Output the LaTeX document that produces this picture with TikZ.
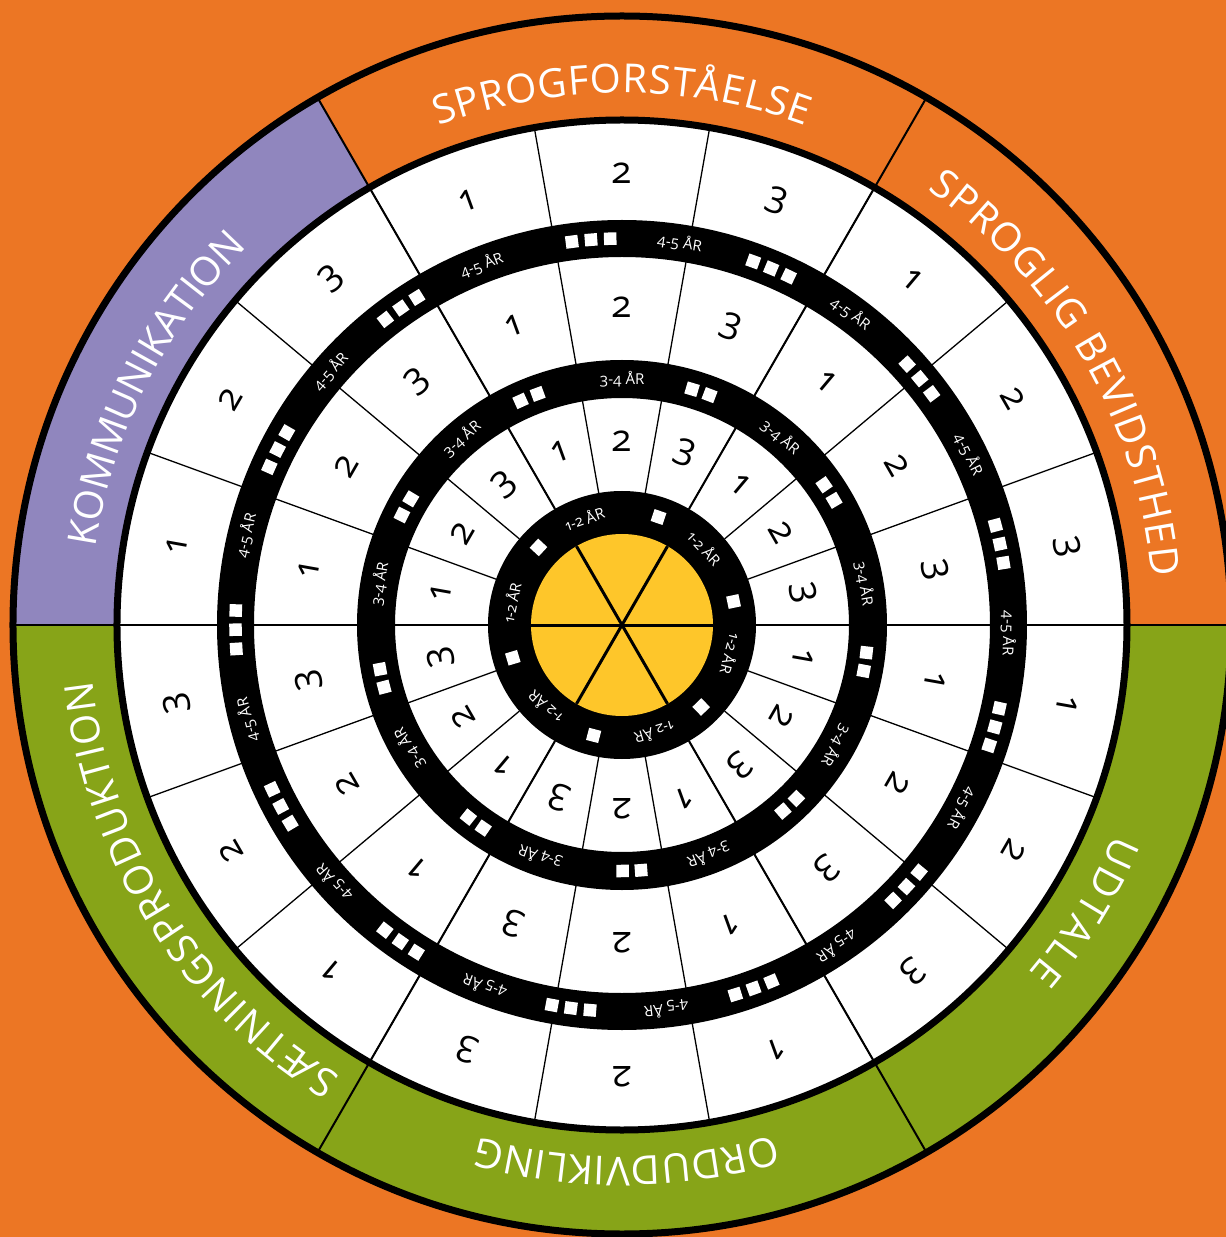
\documentclass[tikz,border=0pt]{standalone}
\usepackage{fontspec}
\setmainfont{Open Sans}[Numbers=OldStyle]
\usetikzlibrary{decorations.text}
\definecolor{bgorange}{RGB}{236,118,36}
\definecolor{kpurple}{RGB}{144,134,190}
\definecolor{kgreen}{RGB}{135,164,24}
\definecolor{kyellow}{RGB}{254,198,42}
\begin{document}
\begin{tikzpicture}[x=1pt,y=1pt,
  digit/.style={font=\fontsize{37}{38}\selectfont, inner sep=0pt, text=black},
  agelabel/.style={font=\fontsize{15}{16}\selectfont, inner sep=0pt, text=white},
  sqr/.style={fill=white, minimum size=12.5pt, inner sep=0pt, outer sep=0pt},
  cellline/.style={line width=1.3pt, black},
  secline/.style={line width=2pt, black},
  cattext/.style={decorate, decoration={text along path, text align=fit to path, text={|\fontsize{40}{48}\selectfont\color{white}|#1}}}
]
\useasboundingbox (-622,-612) rectangle (604,625);
\fill[bgorange] (-622,-612) rectangle (604,625);
% category ring
\fill[kpurple] (120:505) arc[start angle=120,end angle=180,radius=505] -- (180:609) arc[start angle=180,end angle=120,radius=609] -- cycle;
\fill[kgreen] (180:505) arc[start angle=180,end angle=360,radius=505] -- (360:609) arc[start angle=360,end angle=180,radius=609] -- cycle;
\foreach \a in {0,60,...,300} \draw[secline] (\a:505) -- (\a:609);
\draw[line width=7pt] (0,0) circle[radius=609];
\filldraw[fill=white, draw=black, line width=7pt] (0,0) circle[radius=505];
% cell lines
\foreach \a in {0,20,...,340} \draw[cellline] (\a:134) -- (\a:505);
\foreach \a in {0,60,...,300} \draw[secline] (\a:134) -- (\a:505);
% black rings
\fill[black, even odd rule] (0,0) circle[radius=405] circle[radius=368];
\fill[black, even odd rule] (0,0) circle[radius=265] circle[radius=227];
\fill[black] (0,0) circle[radius=134];
\fill[kyellow] (0,0) circle[radius=91];
\foreach \a/\b in {0/180,60/240,120/300} \draw[line width=3pt] (\a:91) -- (\b:91);
% digits
\foreach \s in {0,...,5}{
  \foreach \k in {1,2,3}{
    \pgfmathsetmacro\ang{60*\s+70-20*\k}
    \pgfmathsetmacro\rot{\ang-90}
    \node[digit, rotate=\rot] (da\s\k) at (\ang:452) {\k};
    \node[digit, rotate=\rot] (db\s\k) at (\ang:318) {\k};
    \node[digit, rotate=\rot] (dc\s\k) at (\ang:184) {\k};
  }
}
% outer black ring: labels and squares
\foreach \a [count=\i] in {81.4,53.7,26.2,-1.2,-28.3,-56.2,-83.4,-110.8,-138.2,-165.8,166.6,139,111.3}{
  \pgfmathsetmacro\rot{\a-90}
  \node[agelabel, rotate=\rot] (La\i) at (\a:386.5) {4-5 ÅR};
}
\foreach \a [count=\i] in {94.6,67.3,39.6,12.1,-15.3,-42.6,-70.1,-97.6,-125,-152,-179.3,153,124.9}{
  \foreach \j in {-1,0,1}{
    \pgfmathsetmacro\b{\a+\j*2.85}
    \pgfmathsetmacro\rot{\b-90}
    \node[sqr, rotate=\rot] (Sa\i\j) at (\b:386.5) {};
  }
}
% middle black ring
\foreach \a [count=\i] in {90,49.9,9.7,-29.4,-69.3,-109.4,-149.9,170.4,130.7}{
  \pgfmathsetmacro\rot{\a-90}
  \node[agelabel, rotate=\rot] (Lb\i) at (\a:246) {3-4 ÅR};
}
\foreach \a [count=\i] in {71.3,32.6,-8.6,-47,-87.7,-126.5,-167.5,151.3,112.2}{
  \foreach \j in {-0.5,0.5}{
    \pgfmathsetmacro\b{\a+\j*4.3}
    \pgfmathsetmacro\rot{\b-90}
    \node[sqr, rotate=\rot] (Sb\i\j) at (\b:246) {};
  }
}
% inner black ring
\foreach \a [count=\i] in {109.4,42.9,-14.9,-73.2,-132.9,168.6}{
  \pgfmathsetmacro\rot{\a-90}
  \node[agelabel, rotate=\rot] (Lc\i) at (\a:113) {1-2 ÅR};
}
\foreach \a [count=\i] in {71.3,11.9,-46,-104.4,-163.3,137.1}{
  \pgfmathsetmacro\rot{\a-90}
  \node[sqr, rotate=\rot] (Sc\i) at (\a:114) {};
}
% category texts
\path[cattext=SPROGFORSTÅELSE] (110.2:532) arc[start angle=110.2,end angle=69.8,radius=532];
\path[cattext=SPROGLIG BEVIDSTHED] (54.9:532) arc[start angle=54.9,end angle=5.2,radius=532];
\path[cattext=KOMMUNIKATION] (171.6:532) arc[start angle=171.6,end angle=135,radius=532];
\path[cattext=SÆTNINGSPRODUKTION] (238:532) arc[start angle=238,end angle=186,radius=532];
\path[cattext=ORDUDVIKLING] (286.6:532) arc[start angle=286.6,end angle=254.3,radius=532];
\path[cattext=UDTALE] (337:535) arc[start angle=337,end angle=319.5,radius=535];
\end{tikzpicture}
\end{document}
